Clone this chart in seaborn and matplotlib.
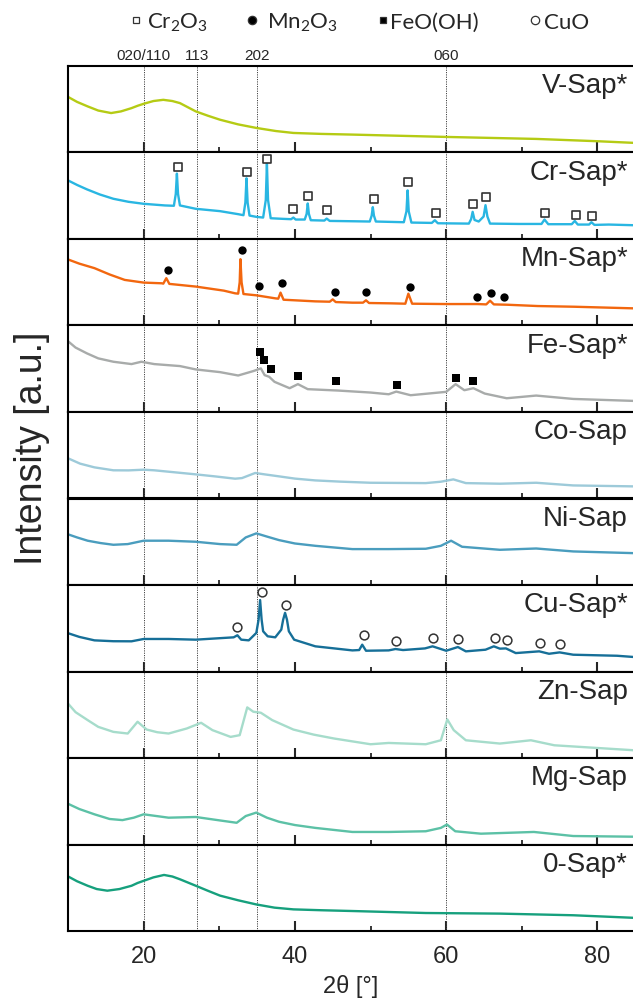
import matplotlib
matplotlib.use("Agg")
import matplotlib.pyplot as plt
from matplotlib.ticker import MultipleLocator
import seaborn as sns

# panel names, top to bottom
samples = ["V-Sap*", "Cr-Sap*", "Mn-Sap*", "Fe-Sap*", "Co-Sap",
           "Ni-Sap", "Cu-Sap*", "Zn-Sap", "Mg-Sap", "0-Sap*"]
colors = ["#B5CB14", "#29B6E2", "#F2670F", "#A8ABAA", "#9DCAD9",
          "#4A9DBE", "#166F98", "#A6DCCB", "#5CC1A6", "#16A07D"]

# diffractograms (2theta, intensity in % of panel height)
v_x = [9.9, 11.2, 12.6, 14.0, 15.7, 17.0, 18.4, 19.2, 20.0, 21.3, 22.6, 23.8, 24.8, 26.9,
       28.5, 30.1, 32.5, 34.9, 37.5, 39.8, 43.5, 47.6, 60.0, 71.9, 80.1, 84.9]
v_y = [64.8, 58.5, 53.3, 48.5, 45.6, 47.5, 51.3, 54.0, 56.3, 59.5, 60.9, 59.5, 57.1, 47.5,
       42.5, 37.9, 32.5, 28.4, 24.8, 22.6, 21.5, 20.7, 18.0, 15.7, 13.0, 11.1]

cr_x = [9.9, 11.2, 12.5, 14.2, 16.0, 18.0, 20.0, 22.8, 24.0, 24.25, 24.4, 24.55, 24.8, 26.9,
        30.1, 32.5, 33.2, 33.45, 33.6, 33.75, 34.0, 34.9, 35.8, 36.15, 36.3, 36.45, 36.8,
        38.4, 39.5, 39.8, 40.1, 41.3, 41.55, 41.7, 41.85, 42.1, 43.9, 44.2, 44.6,
        47.8, 49.9, 50.15, 50.3, 50.45, 50.7, 54.4, 54.75, 54.9, 55.05, 55.4,
        58.1, 58.5, 58.9, 63.0, 63.3, 63.5, 63.75, 64.3, 64.95, 65.2, 65.45, 65.8,
        69.6, 72.6, 73.0, 73.5, 76.6, 77.0, 77.4, 78.9, 79.2, 79.6, 81.5, 84.9]
cr_y = [68.2, 62.5, 57.4, 51.5, 46.5, 43.0, 40.7, 38.8, 38.4, 52.0, 75.6, 52.0, 38.8, 34.9,
        32.2, 28.7, 27.5, 42.0, 70.2, 42.0, 27.1, 25.6, 24.8, 45.0, 87.2, 45.0, 24.0,
        23.3, 22.9, 24.8, 22.5, 22.5, 29.0, 41.1, 29.0, 21.7, 21.3, 23.6, 20.9,
        20.5, 20.2, 27.0, 36.8, 27.0, 20.2, 19.4, 32.0, 56.2, 32.0, 19.0,
        18.6, 21.7, 18.2, 17.8, 23.0, 31.4, 22.0, 20.2, 26.0, 39.1, 26.0, 17.8,
        17.4, 17.4, 22.5, 17.1, 17.1, 20.9, 16.7, 16.7, 19.4, 16.3, 16.7, 15.9]

mn_x = [9.9, 11.5, 13.5, 15.5, 17.5, 20.0, 22.4, 22.6, 23.0, 23.4, 26.9, 30.6, 32.1,
        32.5, 32.7, 32.8, 32.95, 33.2, 34.9, 37.4, 37.8, 38.1, 38.5,
        42.7, 44.6, 45.0, 45.4, 47.6, 49.0, 49.4, 49.8, 52.8, 54.6, 55.0, 55.5,
        60.0, 64.1, 65.3, 65.8, 66.3, 68.1, 72.1, 76.9, 84.9]
mn_y = [76.7, 71.5, 66.3, 59.0, 52.7, 49.6, 48.8, 48.4, 54.7, 48.1, 45.0, 40.3, 37.2,
        36.8, 50.0, 76.7, 50.0, 36.4, 34.9, 31.4, 31.0, 38.0, 29.8,
        27.9, 27.5, 30.2, 27.1, 26.4, 26.4, 29.1, 26.0, 25.6, 25.2, 36.8, 25.2,
        24.8, 24.8, 24.4, 28.7, 24.4, 24.0, 22.5, 21.7, 19.8]

fe_x = [9.9, 11.0, 12.5, 14.0, 16.0, 18.4, 19.7, 21.4, 24.8, 26.9, 30.1, 32.5, 34.5, 35.5,
        36.0, 36.6, 37.3, 39.3, 40.4, 41.7, 45.7, 50.0, 52.4, 53.4, 55.3, 60.0, 61.25,
        62.4, 63.6, 65.1, 68.0, 71.9, 76.8, 84.9]
fe_y = [82.6, 74.5, 67.8, 62.0, 58.1, 55.4, 58.1, 55.4, 53.1, 49.2, 46.1, 42.2, 47.3, 50.4,
        42.6, 40.7, 34.9, 27.5, 32.2, 26.4, 24.8, 22.5, 20.5, 23.6, 19.4, 23.3, 32.2,
        25.2, 27.5, 21.3, 15.9, 19.0, 15.1, 12.8]

co_x = [9.9, 11.6, 13.5, 16.0, 18.0, 20.0, 21.4, 26.9, 29.5, 32.1, 33.0, 34.75, 36.0, 37.9,
        40.0, 42.7, 46.0, 50.0, 57.3, 59.3, 60.95, 62.6, 67.1, 71.9, 76.8, 84.9]
co_y = [46.9, 40.3, 36.0, 32.6, 32.5, 33.3, 32.6, 27.9, 25.5, 22.9, 23.6, 29.5, 27.9, 25.6,
        23.0, 20.9, 19.5, 18.2, 17.8, 19.4, 22.1, 17.8, 17.1, 18.2, 15.1, 14.0]

ni_x = [9.9, 11.2, 12.6, 14.3, 16.0, 17.9, 20.0, 23.3, 26.9, 30.1, 32.3, 33.5, 34.9, 36.3,
        37.9, 40.0, 42.7, 47.6, 52.4, 57.3, 59.3, 60.65, 62.1, 67.1, 71.9, 76.8, 84.9]
ni_y = [58.9, 55.0, 51.2, 48.5, 46.5, 47.3, 51.2, 51.2, 50.0, 47.3, 46.5, 55.0, 59.7, 56.0,
        51.9, 48.0, 45.3, 41.5, 41.5, 41.9, 45.3, 51.2, 44.2, 40.7, 42.2, 38.8, 36.8]

cu_x = [9.9, 11.5, 13.5, 16.0, 18.4, 20.0, 23.3, 26.9, 30.6, 31.9, 32.4, 32.9, 33.9, 34.9,
        35.2, 35.4, 35.6, 35.8, 36.4, 37.4, 38.2, 38.45, 38.7, 38.95, 39.2, 39.9, 42.7,
        47.6, 48.5, 48.9, 49.4, 52.4, 53.3, 54.3, 57.2, 58.2, 60.0, 61.55, 62.6,
        65.2, 66.3, 67.1, 67.9, 69.2, 72.3, 73.6, 75.0, 76.8, 82.6, 84.9]
cu_y = [44.6, 40.0, 36.0, 35.0, 34.9, 37.6, 37.6, 36.8, 38.8, 39.5, 41.9, 36.8, 36.0, 44.6,
        60.0, 82.6, 60.0, 46.5, 40.7, 39.5, 48.4, 60.0, 67.8, 60.0, 46.5, 36.8, 29.1,
        24.4, 24.8, 31.0, 24.0, 24.4, 26.0, 24.8, 26.7, 29.1, 24.0, 28.3, 23.3,
        25.2, 29.1, 26.4, 26.7, 21.3, 23.3, 20.5, 22.1, 19.4, 18.2, 16.7]

zn_x = [9.9, 11.0, 12.6, 14.0, 16.0, 17.9, 19.2, 20.4, 21.8, 23.3, 25.7, 27.6, 29.1, 31.5,
        32.7, 33.7, 34.5, 35.5, 37.0, 39.8, 42.5, 45.2, 50.0, 52.4, 57.3, 59.3, 60.15,
        61.0, 62.6, 67.1, 71.2, 74.3, 84.9]
zn_y = [64.0, 53.0, 43.8, 36.0, 30.2, 28.3, 41.9, 32.9, 29.8, 28.3, 34.1, 40.7, 32.2, 24.4,
        26.4, 58.5, 53.5, 52.3, 43.8, 32.9, 27.0, 22.5, 15.9, 17.4, 15.9, 20.5, 44.6,
        32.2, 20.5, 16.7, 20.5, 14.7, 8.9]

mg_x = [9.9, 11.5, 13.5, 15.5, 17.2, 18.7, 20.0, 23.3, 26.9, 30.1, 32.3, 33.5, 34.9, 36.3,
        37.9, 40.0, 42.7, 47.6, 52.4, 57.3, 59.3, 60.1, 61.2, 64.6, 71.6, 76.8, 84.9]
mg_y = [47.5, 41.0, 34.9, 29.5, 28.2, 31.0, 34.9, 31.0, 31.8, 27.8, 25.1, 32.9, 36.9, 31.0,
        26.3, 22.5, 19.2, 14.5, 14.5, 15.3, 19.2, 23.1, 15.3, 12.5, 14.5, 9.8, 9.0]

zero_x = [9.9, 11.2, 12.6, 13.8, 15.2, 16.8, 18.4, 19.2, 20.0, 21.3, 22.7, 23.8, 24.8, 26.9,
          28.5, 30.1, 32.5, 34.9, 37.3, 39.8, 43.5, 47.6, 57.3, 67.1, 76.8, 84.9]
zero_y = [63.6, 57.5, 52.3, 48.5, 46.6, 48.5, 52.3, 55.5, 58.0, 62.0, 64.8, 63.0, 59.8, 52.3,
          46.5, 40.9, 35.5, 30.7, 27.0, 25.0, 24.0, 23.1, 20.8, 20.1, 18.2, 15.2]

# reflections of the side phases
cr2o3_x = [24.6, 33.7, 36.3, 39.8, 41.7, 44.2, 50.4, 55.0, 58.6, 63.5, 65.2, 73.1, 77.1, 79.3]
cr2o3_y = [83.3, 77.9, 93.0, 34.9, 49.2, 33.7, 46.1, 65.9, 30.6, 40.0, 48.8, 30.2, 27.5, 26.7]
mn2o3_x = [23.2, 33.0, 35.2, 38.3, 45.3, 49.4, 55.2, 64.1, 65.9, 67.6]
mn2o3_y = [64.3, 86.8, 45.7, 48.8, 38.4, 38.4, 45.0, 32.6, 38.0, 32.6]
feooh_x = [35.4, 35.9, 36.9, 40.4, 45.5, 53.5, 61.3, 63.6]
feooh_y = [69.8, 60.5, 49.6, 41.5, 35.7, 31.4, 38.8, 36.4]
cuo_x = [32.4, 35.7, 38.8, 49.1, 53.4, 58.2, 61.55, 66.4, 68.0, 72.4, 75.1]
cuo_y = [51.2, 91.9, 77.1, 42.2, 35.7, 38.8, 37.6, 38.8, 36.8, 33.3, 31.4]

# saponite reflections
hkl_pos = [20, 27, 35, 60]
hkl_labels = ["020/110", "113", "202", "060"]

curves = [(v_x, v_y), (cr_x, cr_y), (mn_x, mn_y), (fe_x, fe_y), (co_x, co_y),
          (ni_x, ni_y), (cu_x, cu_y), (zn_x, zn_y), (mg_x, mg_y), (zero_x, zero_y)]

sns.set_style("ticks")
plt.rcParams["font.family"] = ["Liberation Sans", "DejaVu Sans"]
plt.rcParams["mathtext.default"] = "regular"

fig, axes = plt.subplots(10, 1, figsize=(6.33, 10.05), dpi=100, sharex=True,
                         gridspec_kw=dict(hspace=0))
fig.subplots_adjust(left=0.1074, right=1.0, top=1 - 66 / 1005, bottom=1 - 931 / 1005)

for i, ax in enumerate(axes):
    cx, cy = curves[i]
    for p in hkl_pos:
        ax.axvline(p, color="#444444", lw=0.7, ls=(0, (1.2, 1.2)), zorder=1)
    sns.lineplot(x=cx, y=cy, ax=ax, color=colors[i], lw=1.7, zorder=2)
    ax.set_xlim(10, 84.7)
    ax.set_ylim(0, 100)
    ax.set_yticks([])
    ax.set_ylabel("")
    ax.xaxis.set_major_locator(MultipleLocator(20))
    ax.xaxis.set_minor_locator(MultipleLocator(10))
    ax.tick_params(axis="x", which="major", direction="in", length=7, width=1.5,
                   labelsize=17, pad=11, top=False, bottom=True)
    ax.tick_params(axis="x", which="minor", direction="in", length=3.5, width=1.3,
                   top=False, bottom=True)
    for side in ["top", "bottom", "left"]:
        ax.spines[side].set_linewidth(1.5)
        ax.spines[side].set_color("black")
    ax.spines["right"].set_visible(False)
    ax.text(0.991, 0.685, samples[i], transform=ax.transAxes, ha="right",
            va="baseline", fontsize=20)

# phase markers
sns.scatterplot(x=cr2o3_x, y=cr2o3_y, ax=axes[1], marker="s", s=30, color="white",
                edgecolor="#333333", linewidth=1.2, zorder=4, clip_on=False)
sns.scatterplot(x=mn2o3_x, y=mn2o3_y, ax=axes[2], marker="o", s=36, color="black",
                edgecolor="black", linewidth=0, zorder=4)
sns.scatterplot(x=feooh_x, y=feooh_y, ax=axes[3], marker="s", s=26, color="black",
                edgecolor="black", linewidth=0, zorder=4)
sns.scatterplot(x=cuo_x, y=cuo_y, ax=axes[6], marker="o", s=40, color="white",
                edgecolor="#333333", linewidth=1.1, zorder=4, clip_on=False)

top = axes[0]
for p, lab in zip(hkl_pos, hkl_labels):
    top.text(p, 1.03, lab, transform=top.get_xaxis_transform(), ha="center",
             va="bottom", fontsize=11)

bottom = axes[-1]
bottom.set_xlabel("2θ [°]", fontsize=17, labelpad=5)
fig.text(32 / 633, 1 - 448 / 1005, "Intensity [a.u.]", rotation=90, ha="center",
         va="center", fontsize=27)

# phase legend along the top edge
lax = fig.add_axes([0, 0, 1, 1], zorder=5)
lax.set_xlim(0, 633)
lax.set_ylim(1005, 0)
lax.axis("off")
leg_items = [("s", "white", 136, 147, "Cr$_2$O$_3$"),
             ("o", "black", 252, 267, "Mn$_2$O$_3$"),
             ("s", "black", 383, 390, "FeO(OH)"),
             ("o", "white", 535, 544, "CuO")]
for mk, fc, mx, tx, lab in leg_items:
    ms = 6 if mk == "o" else 5
    lax.plot(mx, 20, marker=mk, ms=ms, mfc=fc, mec="#333333", mew=0.9, ls="none")
    lax.text(tx, 29, lab, fontsize=16, va="baseline", ha="left",
             family=["Lato", "DejaVu Sans"])

fig.savefig("out.png", dpi=100)
